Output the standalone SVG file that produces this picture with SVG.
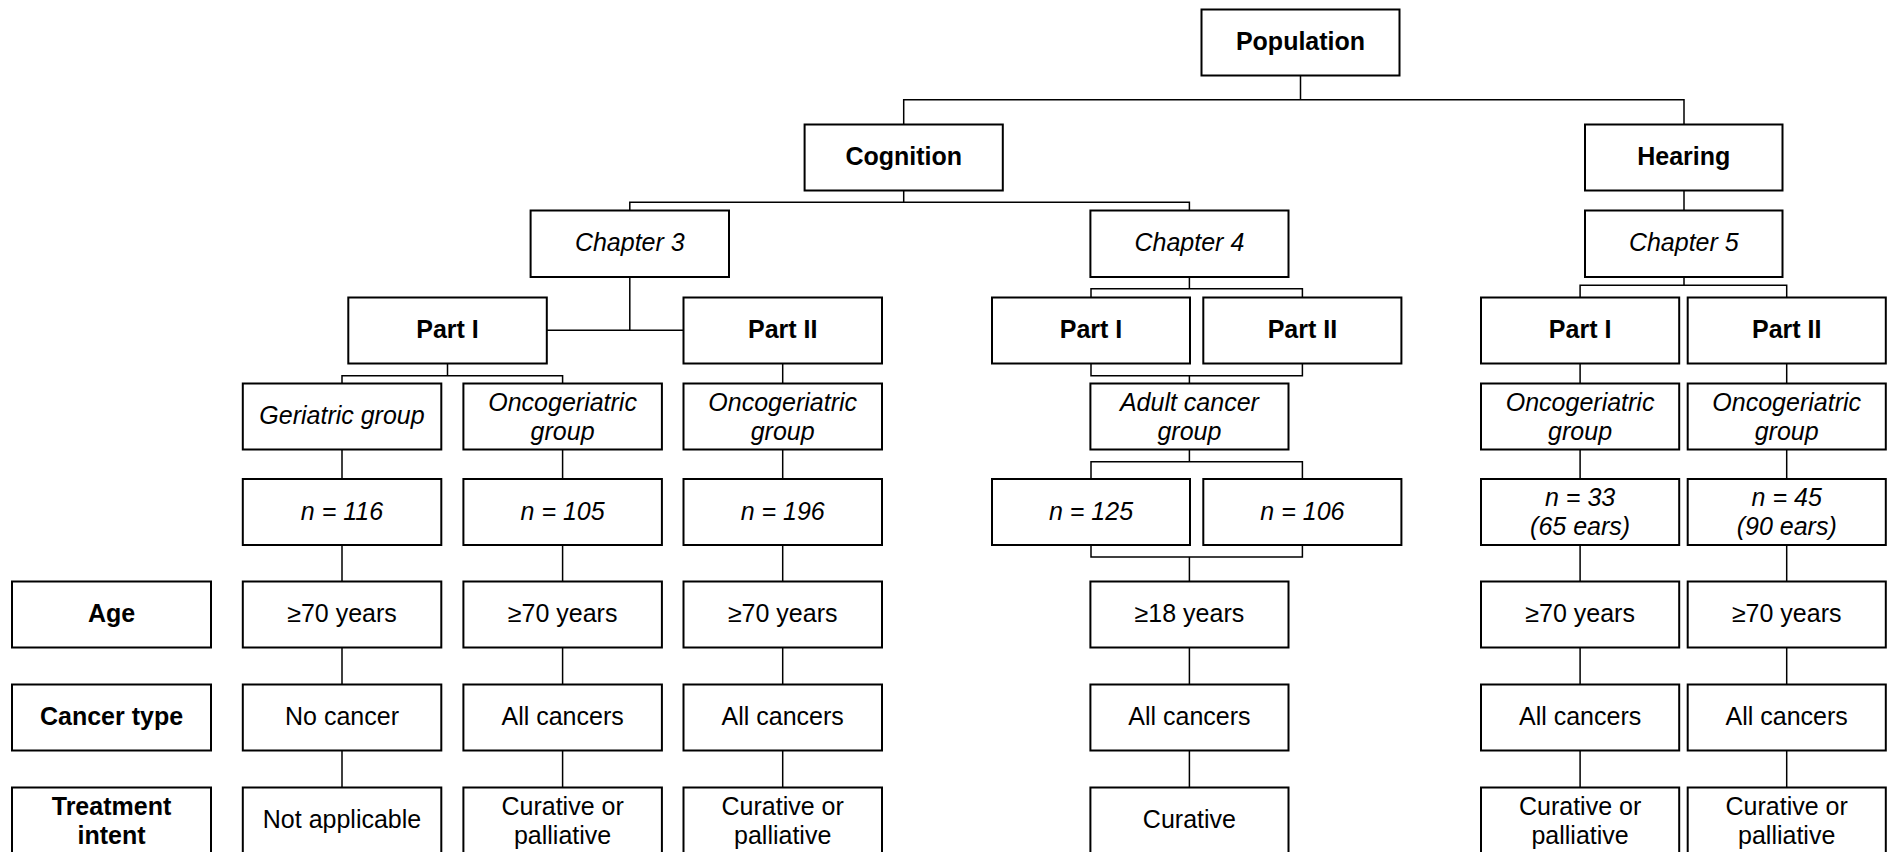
<svg xmlns="http://www.w3.org/2000/svg" width="1887" height="852" viewBox="0 0 1887 852">
<style>
rect{fill:#fff;stroke:#000;stroke-width:2}
text{font-family:"Liberation Sans",Arial,sans-serif;font-size:25px;text-anchor:middle;fill:#000}
.b{font-weight:bold}
.i{font-style:italic}
#connectors path{fill:none;stroke:#000;stroke-width:1.5}
</style>
<rect x="0" y="0" width="1887" height="852" style="fill:#fff;stroke:none"/>
<g id="connectors">
<path d="M1300.5 75.5V99.7M903.7 124.5V99.7H1684V124.5"/>
<path d="M903.7 190.5V202.3M629.8 210.5V202.3H1189.4V210.5"/>
<path d="M1684 190.5V210.5"/>
<path d="M629.8 277V330.3M546.8 330.3H683.5"/>
<path d="M447.5 363.5V375.7M342 383.5V375.7H562.6V383.5"/>
<path d="M782.7 363.5V383.5"/>
<path d="M342 449.5V479M342 545V581.5M342 647.5V684.5M342 750.5V787.5"/>
<path d="M562.6 449.5V479M562.6 545V581.5M562.6 647.5V684.5M562.6 750.5V787.5"/>
<path d="M782.7 449.5V479M782.7 545V581.5M782.7 647.5V684.5M782.7 750.5V787.5"/>
<path d="M1189.4 277V288.7M1091 297.5V288.7H1302.4V297.5"/>
<path d="M1091 363.5V375.7H1302.4V363.5M1189.4 375.7V383.5"/>
<path d="M1189.4 449.5V461.7M1091 479V461.7H1302.4V479"/>
<path d="M1091 545V557H1302.4V545M1189.4 557V581.5"/>
<path d="M1189.4 647.5V684.5M1189.4 750.5V787.5"/>
<path d="M1684 277V285.3M1580.1 297.5V285.3H1786.7V297.5"/>
<path d="M1580.1 363.5V383.5M1580.1 449.5V479M1580.1 545V581.5M1580.1 647.5V684.5M1580.1 750.5V787.5"/>
<path d="M1786.7 363.5V383.5M1786.7 449.5V479M1786.7 545V581.5M1786.7 647.5V684.5M1786.7 750.5V787.5"/>
</g>
<g id="population"><rect x="1201.5" y="9.5" width="198" height="66"/><text class="b" x="1300.5" y="50">Population</text></g>
<g id="cognition"><rect x="804.6" y="124.5" width="198.2" height="66"/><text class="b" x="903.7" y="165">Cognition</text></g>
<g id="hearing"><rect x="1585" y="124.5" width="197.5" height="66"/><text class="b" x="1683.8" y="165">Hearing</text></g>
<g id="chapter3"><rect x="530.6" y="210.5" width="198.4" height="66.5"/><text class="i" x="629.8" y="251.2">Chapter 3</text></g>
<g id="chapter4"><rect x="1090.4" y="210.5" width="198.1" height="66.5"/><text class="i" x="1189.4" y="251.2">Chapter 4</text></g>
<g id="chapter5"><rect x="1585" y="210.5" width="197.5" height="66.5"/><text class="i" x="1683.8" y="251.2">Chapter 5</text></g>
<g id="ch3-part1"><rect x="348.3" y="297.5" width="198.5" height="66"/><text class="b" x="447.5" y="338">Part I</text></g>
<g id="ch3-part2"><rect x="683.5" y="297.5" width="198.5" height="66"/><text class="b" x="782.7" y="338">Part II</text></g>
<g id="ch4-part1"><rect x="992" y="297.5" width="198" height="66"/><text class="b" x="1091" y="338">Part I</text></g>
<g id="ch4-part2"><rect x="1203.3" y="297.5" width="198.1" height="66"/><text class="b" x="1302.4" y="338">Part II</text></g>
<g id="ch5-part1"><rect x="1481" y="297.5" width="198.2" height="66"/><text class="b" x="1580.1" y="338">Part I</text></g>
<g id="ch5-part2"><rect x="1687.7" y="297.5" width="198.1" height="66"/><text class="b" x="1786.7" y="338">Part II</text></g>
<g id="geriatric-group"><rect x="242.8" y="383.5" width="198.5" height="66"/><text class="i" x="342" y="424">Geriatric group</text></g>
<g id="oncogeriatric-group-3a"><rect x="463.4" y="383.5" width="198.5" height="66"/><text class="i" x="562.6" y="410.5">Oncogeriatric</text><text class="i" x="562.6" y="440">group</text></g>
<g id="oncogeriatric-group-3b"><rect x="683.5" y="383.5" width="198.5" height="66"/><text class="i" x="782.7" y="410.5">Oncogeriatric</text><text class="i" x="782.7" y="440">group</text></g>
<g id="adult-cancer-group"><rect x="1090.4" y="383.5" width="198.1" height="66"/><text class="i" x="1189.4" y="410.5">Adult cancer</text><text class="i" x="1189.4" y="440">group</text></g>
<g id="oncogeriatric-group-5a"><rect x="1481" y="383.5" width="198.2" height="66"/><text class="i" x="1580.1" y="410.5">Oncogeriatric</text><text class="i" x="1580.1" y="440">group</text></g>
<g id="oncogeriatric-group-5b"><rect x="1687.7" y="383.5" width="198.1" height="66"/><text class="i" x="1786.7" y="410.5">Oncogeriatric</text><text class="i" x="1786.7" y="440">group</text></g>
<g id="n116"><rect x="242.8" y="479" width="198.5" height="66"/><text class="i" x="342" y="519.5">n = 116</text></g>
<g id="n105"><rect x="463.4" y="479" width="198.5" height="66"/><text class="i" x="562.6" y="519.5">n = 105</text></g>
<g id="n196"><rect x="683.5" y="479" width="198.5" height="66"/><text class="i" x="782.7" y="519.5">n = 196</text></g>
<g id="n125"><rect x="992" y="479" width="198" height="66"/><text class="i" x="1091" y="519.5">n = 125</text></g>
<g id="n106"><rect x="1203.3" y="479" width="198.1" height="66"/><text class="i" x="1302.4" y="519.5">n = 106</text></g>
<g id="n33"><rect x="1481" y="479" width="198.2" height="66"/><text class="i" x="1580.1" y="505.5">n = 33</text><text class="i" x="1580.1" y="535">(65 ears)</text></g>
<g id="n45"><rect x="1687.7" y="479" width="198.1" height="66"/><text class="i" x="1786.7" y="505.5">n = 45</text><text class="i" x="1786.7" y="535">(90 ears)</text></g>
<g id="label-age"><rect x="12" y="581.5" width="199" height="66"/><text class="b" x="111.5" y="622">Age</text></g>
<g id="age-a"><rect x="242.8" y="581.5" width="198.5" height="66"/><text x="342" y="622">≥70 years</text></g>
<g id="age-b"><rect x="463.4" y="581.5" width="198.5" height="66"/><text x="562.6" y="622">≥70 years</text></g>
<g id="age-c"><rect x="683.5" y="581.5" width="198.5" height="66"/><text x="782.7" y="622">≥70 years</text></g>
<g id="age-d"><rect x="1090.4" y="581.5" width="198.1" height="66"/><text x="1189.4" y="622">≥18 years</text></g>
<g id="age-e"><rect x="1481" y="581.5" width="198.2" height="66"/><text x="1580.1" y="622">≥70 years</text></g>
<g id="age-f"><rect x="1687.7" y="581.5" width="198.1" height="66"/><text x="1786.7" y="622">≥70 years</text></g>
<g id="label-cancer-type"><rect x="12" y="684.5" width="199" height="66"/><text class="b" x="111.5" y="725">Cancer type</text></g>
<g id="cancer-a"><rect x="242.8" y="684.5" width="198.5" height="66"/><text x="342" y="725">No cancer</text></g>
<g id="cancer-b"><rect x="463.4" y="684.5" width="198.5" height="66"/><text x="562.6" y="725">All cancers</text></g>
<g id="cancer-c"><rect x="683.5" y="684.5" width="198.5" height="66"/><text x="782.7" y="725">All cancers</text></g>
<g id="cancer-d"><rect x="1090.4" y="684.5" width="198.1" height="66"/><text x="1189.4" y="725">All cancers</text></g>
<g id="cancer-e"><rect x="1481" y="684.5" width="198.2" height="66"/><text x="1580.1" y="725">All cancers</text></g>
<g id="cancer-f"><rect x="1687.7" y="684.5" width="198.1" height="66"/><text x="1786.7" y="725">All cancers</text></g>
<g id="label-treatment-intent"><rect x="12" y="787.5" width="199" height="66"/><text class="b" x="111.5" y="815">Treatment</text><text class="b" x="111.5" y="844">intent</text></g>
<g id="treat-a"><rect x="242.8" y="787.5" width="198.5" height="66"/><text x="342" y="828">Not applicable</text></g>
<g id="treat-b"><rect x="463.4" y="787.5" width="198.5" height="66"/><text x="562.6" y="815">Curative or</text><text x="562.6" y="844">palliative</text></g>
<g id="treat-c"><rect x="683.5" y="787.5" width="198.5" height="66"/><text x="782.7" y="815">Curative or</text><text x="782.7" y="844">palliative</text></g>
<g id="treat-d"><rect x="1090.4" y="787.5" width="198.1" height="66"/><text x="1189.4" y="828">Curative</text></g>
<g id="treat-e"><rect x="1481" y="787.5" width="198.2" height="66"/><text x="1580.1" y="815">Curative or</text><text x="1580.1" y="844">palliative</text></g>
<g id="treat-f"><rect x="1687.7" y="787.5" width="198.1" height="66"/><text x="1786.7" y="815">Curative or</text><text x="1786.7" y="844">palliative</text></g>
</svg>
